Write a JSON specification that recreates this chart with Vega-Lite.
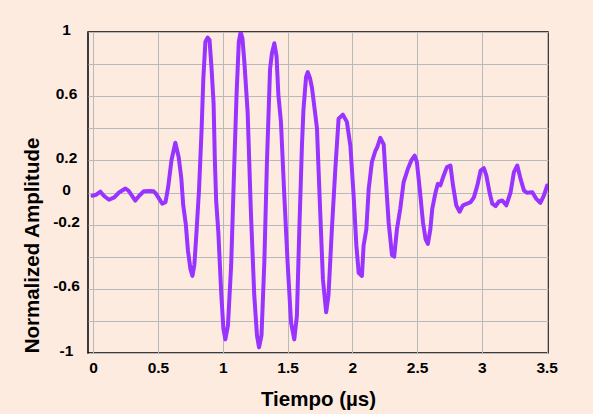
{
  "$schema": "https://vega.github.io/schema/vega-lite/v6.json",
  "autosize": "none",
  "width": 460,
  "height": 321,
  "padding": {"left": 88, "top": 32, "right": 45, "bottom": 61},
  "background": "#fdebdf",
  "config": {
    "view": {"fill": "#fdebdf", "stroke": "#000000", "strokeWidth": 1.5},
    "font": "Liberation Sans"
  },
  "data": {
    "values": [
      {"t": -0.005, "a": -0.02}, {"t": 0.021, "a": -0.015}, {"t": 0.056, "a": 0.005}, {"t": 0.082, "a": -0.02},
      {"t": 0.122, "a": -0.045}, {"t": 0.163, "a": -0.03}, {"t": 0.199, "a": 0.0}, {"t": 0.249, "a": 0.025},
      {"t": 0.274, "a": 0.01}, {"t": 0.325, "a": -0.05}, {"t": 0.355, "a": -0.02}, {"t": 0.391, "a": 0.008},
      {"t": 0.437, "a": 0.01}, {"t": 0.467, "a": 0.008}, {"t": 0.487, "a": -0.01}, {"t": 0.533, "a": -0.07},
      {"t": 0.558, "a": -0.06}, {"t": 0.578, "a": 0.03}, {"t": 0.604, "a": 0.2}, {"t": 0.634, "a": 0.31},
      {"t": 0.66, "a": 0.22}, {"t": 0.68, "a": 0.09}, {"t": 0.695, "a": -0.08}, {"t": 0.715, "a": -0.2},
      {"t": 0.731, "a": -0.36}, {"t": 0.751, "a": -0.48}, {"t": 0.766, "a": -0.52}, {"t": 0.781, "a": -0.45},
      {"t": 0.797, "a": -0.25}, {"t": 0.817, "a": 0.02}, {"t": 0.837, "a": 0.4}, {"t": 0.85, "a": 0.71},
      {"t": 0.866, "a": 0.94}, {"t": 0.883, "a": 0.965}, {"t": 0.898, "a": 0.95}, {"t": 0.913, "a": 0.78},
      {"t": 0.929, "a": 0.56}, {"t": 0.939, "a": 0.2}, {"t": 0.949, "a": -0.05}, {"t": 0.966, "a": -0.25},
      {"t": 0.989, "a": -0.64}, {"t": 1.005, "a": -0.85}, {"t": 1.02, "a": -0.915}, {"t": 1.04, "a": -0.83},
      {"t": 1.065, "a": -0.45}, {"t": 1.088, "a": 0.15}, {"t": 1.106, "a": 0.6}, {"t": 1.124, "a": 0.94},
      {"t": 1.138, "a": 1.0}, {"t": 1.152, "a": 0.96}, {"t": 1.167, "a": 0.81}, {"t": 1.192, "a": 0.5},
      {"t": 1.217, "a": -0.12}, {"t": 1.243, "a": -0.64}, {"t": 1.264, "a": -0.89}, {"t": 1.28, "a": -0.965},
      {"t": 1.299, "a": -0.89}, {"t": 1.321, "a": -0.43}, {"t": 1.341, "a": 0.19}, {"t": 1.365, "a": 0.77},
      {"t": 1.38, "a": 0.87}, {"t": 1.398, "a": 0.93}, {"t": 1.415, "a": 0.85}, {"t": 1.429, "a": 0.61},
      {"t": 1.449, "a": 0.44}, {"t": 1.475, "a": -0.02}, {"t": 1.5, "a": -0.43}, {"t": 1.527, "a": -0.81},
      {"t": 1.552, "a": -0.915}, {"t": 1.572, "a": -0.77}, {"t": 1.591, "a": -0.23}, {"t": 1.611, "a": 0.29},
      {"t": 1.623, "a": 0.52}, {"t": 1.643, "a": 0.72}, {"t": 1.656, "a": 0.75}, {"t": 1.674, "a": 0.71},
      {"t": 1.689, "a": 0.65}, {"t": 1.712, "a": 0.5}, {"t": 1.727, "a": 0.4}, {"t": 1.752, "a": -0.12},
      {"t": 1.773, "a": -0.54}, {"t": 1.798, "a": -0.746}, {"t": 1.816, "a": -0.64}, {"t": 1.842, "a": -0.23},
      {"t": 1.869, "a": 0.15}, {"t": 1.894, "a": 0.46}, {"t": 1.927, "a": 0.485}, {"t": 1.958, "a": 0.44},
      {"t": 1.985, "a": 0.29}, {"t": 2.01, "a": -0.02}, {"t": 2.031, "a": -0.33}, {"t": 2.049, "a": -0.5},
      {"t": 2.074, "a": -0.52}, {"t": 2.087, "a": -0.33}, {"t": 2.108, "a": -0.23}, {"t": 2.126, "a": 0.02},
      {"t": 2.151, "a": 0.19}, {"t": 2.178, "a": 0.26}, {"t": 2.191, "a": 0.28}, {"t": 2.216, "a": 0.34},
      {"t": 2.242, "a": 0.3}, {"t": 2.255, "a": 0.127}, {"t": 2.28, "a": -0.185}, {"t": 2.306, "a": -0.39},
      {"t": 2.323, "a": -0.4}, {"t": 2.344, "a": -0.23}, {"t": 2.37, "a": -0.1}, {"t": 2.396, "a": 0.065},
      {"t": 2.429, "a": 0.148}, {"t": 2.455, "a": 0.2}, {"t": 2.481, "a": 0.23}, {"t": 2.498, "a": 0.19},
      {"t": 2.52, "a": 0.023}, {"t": 2.545, "a": -0.185}, {"t": 2.565, "a": -0.29}, {"t": 2.583, "a": -0.32},
      {"t": 2.602, "a": -0.23}, {"t": 2.617, "a": -0.1}, {"t": 2.642, "a": 0.0}, {"t": 2.66, "a": 0.054},
      {"t": 2.679, "a": 0.044}, {"t": 2.705, "a": 0.106}, {"t": 2.73, "a": 0.158}, {"t": 2.757, "a": 0.168},
      {"t": 2.777, "a": 0.044}, {"t": 2.802, "a": -0.08}, {"t": 2.828, "a": -0.12}, {"t": 2.853, "a": -0.08},
      {"t": 2.885, "a": -0.07}, {"t": 2.913, "a": -0.06}, {"t": 2.938, "a": -0.03}, {"t": 2.965, "a": 0.044},
      {"t": 2.99, "a": 0.137}, {"t": 3.015, "a": 0.152}, {"t": 3.034, "a": 0.106}, {"t": 3.059, "a": 0.0},
      {"t": 3.08, "a": -0.07}, {"t": 3.106, "a": -0.085}, {"t": 3.131, "a": -0.056}, {"t": 3.157, "a": -0.05},
      {"t": 3.188, "a": -0.08}, {"t": 3.221, "a": 0.0}, {"t": 3.247, "a": 0.127}, {"t": 3.273, "a": 0.168},
      {"t": 3.298, "a": 0.085}, {"t": 3.325, "a": 0.012}, {"t": 3.35, "a": -0.002}, {"t": 3.389, "a": 0.002},
      {"t": 3.42, "a": -0.04}, {"t": 3.451, "a": -0.064}, {"t": 3.478, "a": -0.02}, {"t": 3.504, "a": 0.044}
    ]
  },
  "mark": {"type": "line", "color": "#9933ff", "strokeWidth": 4, "interpolate": "linear", "strokeJoin": "round", "strokeCap": "round", "clip": true},
  "encoding": {
    "x": {
      "field": "t", "type": "quantitative",
      "scale": {"domain": [-0.04, 3.51], "nice": false, "zero": false},
      "axis": {
        "title": "Tiempo (µs)",
        "values": [0, 0.5, 1, 1.5, 2, 2.5, 3, 3.5],
        "labelExpr": "'' + datum.value",
        "labelFlush": false,
        "ticks": false,
        "domain": false,
        "grid": true,
        "gridColor": "#b9b9b9",
        "gridWidth": 1,
        "labelPadding": 7,
        "labelFont": "Liberation Sans",
        "labelFontWeight": "bold",
        "labelFontSize": 15.5,
        "labelColor": "#000000",
        "titleFont": "Liberation Sans",
        "titleFontWeight": "bold",
        "titleFontSize": 20.5,
        "titleColor": "#000000",
        "titleBaseline": "alphabetic",
        "titleX": 230,
        "titleY": 52
      }
    },
    "y": {
      "field": "a", "type": "quantitative",
      "scale": {"domain": [-1, 1], "nice": false, "zero": false},
      "axis": {
        "title": "Normalized Amplitude",
        "values": [-1, -0.8, -0.6, -0.4, -0.2, 0, 0.2, 0.4, 0.6, 0.8, 1],
        "labelExpr": "indexof([1, 0.6, 0.2, 0, -0.2, -0.6, -1], datum.value) >= 0 ? '' + datum.value : ''",
        "labelFlush": false,
        "ticks": false,
        "domain": false,
        "grid": true,
        "gridColor": "#b9b9b9",
        "gridWidth": 1,
        "labelAlign": "center",
        "labelPadding": 22,
        "labelOffset": -3,
        "labelFont": "Liberation Sans",
        "labelFontWeight": "bold",
        "labelFontSize": 15.5,
        "labelColor": "#000000",
        "titleFont": "Liberation Sans",
        "titleFontWeight": "bold",
        "titleFontSize": 20.5,
        "titleColor": "#000000",
        "titleBaseline": "alphabetic",
        "titleX": -50,
        "titleY": 213
      }
    }
  }
}
